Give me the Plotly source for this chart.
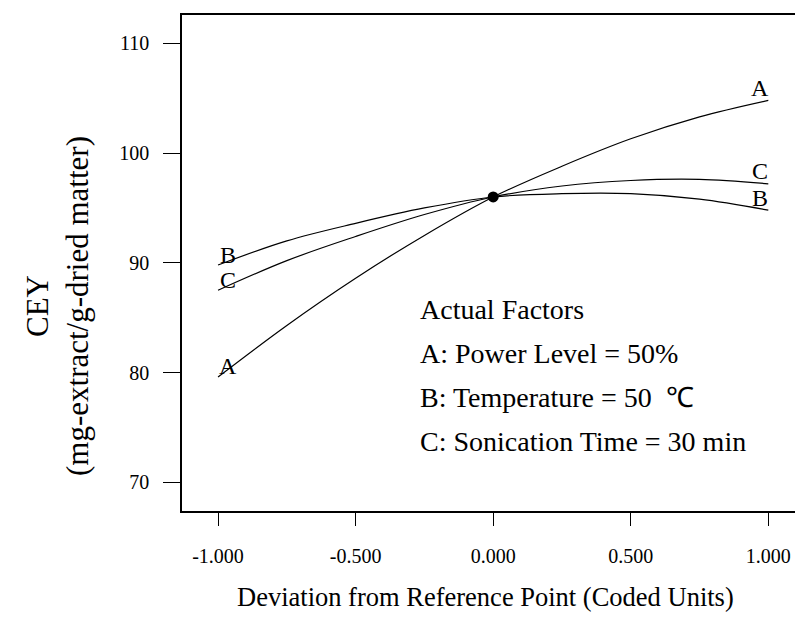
import plotly.graph_objects as go

# Coded deviation from reference point
x_coded = [-1.0, -0.75, -0.5, -0.25, 0.0, 0.25, 0.5, 0.75, 1.0]
# CEY values
cey_A = [79.6, 84.3, 88.6, 92.5, 96.0, 98.8, 101.3, 103.3, 104.8]
cey_B = [89.8, 92.0, 93.6, 95.0, 96.0, 96.3, 96.3, 95.8, 94.8]
cey_C = [87.5, 90.2, 92.4, 94.4, 96.0, 97.0, 97.5, 97.6, 97.2]
ref_point = [0.0]
ref_value = [96.0]

x_ticks = [-1.0, -0.5, 0.0, 0.5, 1.0]
x_tick_labels = ["-1.000", "-0.500", "0.000", "0.500", "1.000"]
y_ticks = [70, 80, 90, 100, 110]

factor_lines = ["Actual Factors", "A: Power Level = 50%",
                "B: Temperature = 50  ℃", "C: Sonication Time = 30 min"]

FONT = "Liberation Serif"
W, H = 795, 620
L, R, T, B = 182, 0, 15, 109
PW, PH = W - L - R, H - T - B


def px_x(p):
    return (p - L) / PW


def px_y(p):
    return (H - B - p) / PH


fig = go.Figure()
for ys in (cey_A, cey_B, cey_C):
    fig.add_trace(go.Scatter(x=x_coded, y=ys, mode="lines",
                             line=dict(color="black", width=1.2, shape="spline"),
                             hoverinfo="skip", showlegend=False))
fig.add_trace(go.Scatter(x=ref_point, y=ref_value, mode="markers",
                         marker=dict(color="black", size=11),
                         showlegend=False))

ann = []
# curve labels
lab = [("A", -0.965, 80.6), ("B", -0.965, 90.7), ("C", -0.965, 88.4),
       ("A", 0.968, 105.9), ("C", 0.968, 98.4), ("B", 0.968, 95.9)]
for t, xx, yy in lab:
    ann.append(dict(x=xx, y=yy, xref="x", yref="y", text=t, showarrow=False,
                    font=dict(family=FONT, size=24, color="black"),
                    xanchor="center", yanchor="middle"))
# factor box
for i, t in enumerate(factor_lines):
    ann.append(dict(x=px_x(418), y=px_y(309 + i * 44.3), xref="paper", yref="paper",
                    text=t, showarrow=False, xanchor="left", yanchor="middle",
                    font=dict(family=FONT, size=28, color="black")))
# axis titles
ann.append(dict(x=px_x(485), y=px_y(597), xref="paper", yref="paper",
                text="Deviation from Reference Point (Coded Units)", showarrow=False,
                xanchor="center", yanchor="middle",
                font=dict(family=FONT, size=26.5, color="black")))
ann.append(dict(x=px_x(57), y=px_y(306), xref="paper", yref="paper",
                text="CEY<br>(mg-extract/g-dried matter)", showarrow=False,
                textangle=-90, xanchor="center", yanchor="middle",
                font=dict(family=FONT, size=31, color="black")))

fig.update_layout(
    width=W, height=H,
    margin=dict(l=L, r=R, t=T, b=B),
    paper_bgcolor="white", plot_bgcolor="white",
    font=dict(family=FONT, color="black"),
    annotations=ann,
    xaxis=dict(range=[-1.131, 1.097], tickvals=x_ticks, ticktext=x_tick_labels,
               showgrid=False, zeroline=False, showline=True, linecolor="black",
               linewidth=1.5, mirror=True, ticks="outside", ticklen=13,
               tickwidth=1, tickcolor="black", ticklabelstandoff=13,
               tickfont=dict(family=FONT, size=20, color="black")),
    yaxis=dict(range=[67.39, 112.58], tickvals=y_ticks,
               showgrid=False, zeroline=False, showline=True, linecolor="black",
               linewidth=1.5, mirror=False, ticks="outside", ticklen=17,
               tickwidth=1, tickcolor="black", ticklabelstandoff=10,
               tickfont=dict(family=FONT, size=20, color="black")),
)

fig.write_html("out.html")
